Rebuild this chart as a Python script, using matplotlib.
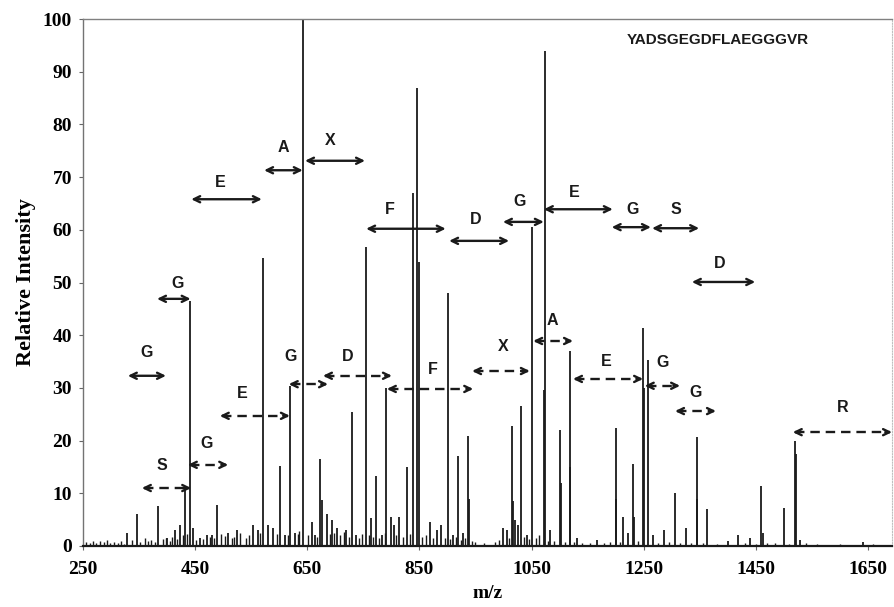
import matplotlib
matplotlib.use("Agg")
import matplotlib.pyplot as plt

# ---- spectrum peaks (m/z, relative intensity) -------------------------
peak_mz = [328, 346, 384, 400, 414, 423, 432, 441, 446, 459, 471, 480, 489,
           509, 525, 553, 562, 571, 580, 589, 601, 610, 619, 628, 643,
           658, 664, 673, 676, 685, 694, 703, 720, 729, 737, 755, 763, 773,
           783, 790, 799, 805, 814, 828, 838, 846, 849, 869, 881, 888, 901,
           910, 919, 928, 937, 939, 999, 1006, 1015, 1017, 1021, 1026, 1031,
           1042, 1050, 1072, 1074, 1083, 1101, 1102, 1118, 1119, 1131, 1167,
           1200, 1201, 1213, 1222, 1231, 1232, 1249, 1250, 1258, 1267, 1286,
           1306, 1325, 1345, 1346, 1363, 1400, 1418, 1440, 1459, 1463, 1500,
           1520, 1521, 1529, 1641]
peak_int = [2.5, 6.0, 7.5, 1.5, 3.0, 4.0, 11.0, 46.5, 3.5, 1.5, 2.0, 2.0, 7.7,
            2.5, 3.0, 4.0, 3.0, 54.7, 4.0, 3.5, 15.2, 2.0, 30.3, 2.5, 100.0,
            4.5, 2.0, 16.5, 8.7, 6.0, 5.0, 3.5, 3.0, 25.4, 2.0, 56.8, 5.4, 13.3,
            2.0, 30.0, 5.5, 4.0, 5.5, 15.0, 67.0, 87.0, 53.8, 4.5, 3.0, 4.0, 48.0,
            2.0, 17.0, 2.5, 20.8, 9.0, 3.5, 3.0, 22.7, 8.5, 5.0, 4.0, 26.5,
            2.0, 60.6, 29.6, 94.0, 3.0, 22.0, 12.0, 37.0, 15.0, 1.5, 1.2,
            22.3, 9.0, 5.5, 2.5, 15.5, 5.5, 41.3, 30.0, 35.2, 2.0, 3.0,
            10.0, 3.5, 20.6, 9.0, 7.0, 1.0, 2.0, 1.5, 11.4, 2.5, 7.2,
            19.9, 17.5, 1.2, 0.7]

# low-level chemical noise along the baseline
noise_mz = [255, 262, 268, 274, 281, 288, 293, 299, 306, 312, 318, 324, 337,
            352, 360, 366, 372, 378, 392, 398, 405, 409, 418, 428, 436, 452,
            464, 476, 484, 496, 503, 516, 520, 530, 540, 546, 566, 596, 616,
            633, 636, 652, 668, 690, 698, 708, 715, 724, 742, 748, 760, 768,
            778, 788, 808, 820, 833, 855, 862, 875, 895, 905, 915, 924, 932,
            944, 950, 966, 985, 992, 1010, 1036, 1046, 1058, 1064, 1080, 1090,
            1110, 1125, 1140, 1155, 1180, 1190, 1207, 1240, 1275, 1295, 1315,
            1335, 1355, 1380, 1430, 1450, 1470, 1485, 1510, 1540, 1560, 1600,
            1660]
noise_int = [0.8, 0.6, 1.0, 0.5, 0.9, 0.7, 1.1, 0.6, 0.8, 0.5, 0.9, 0.4, 1.2,
             0.8, 1.5, 0.9, 1.2, 0.7, 1.3, 1.6, 1.0, 1.8, 1.4, 2.0, 2.2, 1.2,
             1.4, 1.8, 1.6, 2.2, 1.9, 1.5, 1.8, 2.4, 1.6, 2.0, 2.5, 2.2, 2.0,
             2.3, 2.8, 2.0, 1.8, 2.2, 2.5, 2.0, 2.6, 1.8, 1.6, 2.2, 2.0, 1.8,
             1.5, 2.4, 2.0, 1.7, 2.2, 1.8, 2.0, 1.5, 1.6, 1.4, 1.8, 1.2, 1.5,
             1.0, 0.8, 0.6, 0.7, 1.2, 1.5, 1.8, 1.4, 1.6, 2.0, 1.0, 0.9,
             0.8, 0.7, 0.6, 0.5, 0.6, 0.8, 0.7, 0.9, 0.6, 0.7, 0.5, 0.6,
             0.5, 0.4, 0.5, 0.4, 0.6, 0.5, 0.4, 0.5, 0.4, 0.3, 0.3]

# ---- sequence-ladder arrows: start, end, y, label, label x, label y -----
solid_start = [330, 382, 443, 573, 646, 755, 903, 999, 1072, 1193, 1265, 1336]
solid_end = [398, 442, 569, 642, 753, 897, 1010, 1072, 1195, 1263, 1349, 1449]
solid_y = [32.3, 46.9, 65.8, 71.3, 73.1, 60.2, 57.9, 61.5, 63.9, 60.5, 60.3, 50.1]
solid_lab = ["G", "G", "E", "A", "X", "F", "D", "G", "E", "G", "S", "D"]
solid_lab_x = [364, 418, 494, 607, 690, 798, 951, 1028, 1126, 1231, 1308, 1386]
solid_lab_y = [36.8, 49.9, 68.9, 75.7, 77.0, 63.8, 61.9, 65.3, 67.0, 63.9, 63.9, 53.7]

dash_start = [355, 437, 494, 617, 678, 792, 944, 1053, 1124, 1252, 1306, 1516]
dash_end = [443, 509, 619, 687, 801, 946, 1047, 1124, 1249, 1315, 1379, 1693]
dash_y = [11.0, 15.4, 24.7, 30.7, 32.3, 29.8, 33.2, 38.9, 31.7, 30.4, 25.6, 21.6]
dash_lab = ["S", "G", "E", "G", "D", "F", "X", "A", "E", "G", "G", "R"]
dash_lab_x = [391, 471, 534, 621, 723, 874, 999, 1088, 1183, 1283, 1343, 1605]
dash_lab_y = [15.2, 19.5, 29.0, 35.9, 35.9, 33.4, 37.8, 42.7, 35.1, 34.9, 29.2, 26.2]

SEQUENCE = "YADSGEGDFLAEGGGVR"

SERIF = ["Liberation Serif", "DejaVu Serif"]
SANS = ["Liberation Sans", "DejaVu Sans"]
INK = "#1a1a1a"


def arrow(ax, x0, x1, y, dashed):
    head = "<->,head_length=0.45,head_width=0.22"
    if not dashed:
        ax.annotate("", xy=(x1, y), xytext=(x0, y),
                    arrowprops=dict(arrowstyle=head, lw=1.7, color=INK,
                                    shrinkA=0, shrinkB=0))
        return
    ax.plot([x0 + 4, x1 - 4], [y, y], color=INK, lw=1.7, ls=(0, (4, 2.5)))
    for a, b in [(x0, x0 + 12), (x1, x1 - 12)]:
        ax.annotate("", xy=(a, y), xytext=(b, y),
                    arrowprops=dict(arrowstyle="->,head_length=0.45,head_width=0.22",
                                    lw=1.7, color=INK, shrinkA=0, shrinkB=0))


def main():
    fig = plt.figure(figsize=(8.94, 6.07), dpi=100)
    ax = fig.add_axes([83 / 894, 61 / 607, 809 / 894, 527 / 607])

    ax.vlines(noise_mz, 0, noise_int, color=INK, lw=1.0)
    ax.vlines(peak_mz, 0, peak_int, color=INK, lw=1.3)

    for x0, x1, y in zip(solid_start, solid_end, solid_y):
        arrow(ax, x0, x1, y, dashed=False)
    for x0, x1, y in zip(dash_start, dash_end, dash_y):
        arrow(ax, x0, x1, y, dashed=True)

    for lab, lx, ly in zip(solid_lab + dash_lab, solid_lab_x + dash_lab_x,
                           solid_lab_y + dash_lab_y):
        ax.text(lx, ly, lab, ha="center", va="center", fontsize=11.5,
                fontweight="bold", family=SANS, color=INK)

    ax.text(1382, 96, SEQUENCE, ha="center", va="center", fontsize=11,
            fontweight="bold", family=SANS, color=INK)

    ax.set_xlim(250, 1693)
    ax.set_ylim(0, 100)
    ax.set_xticks([250, 450, 650, 850, 1050, 1250, 1450, 1650])
    ax.set_yticks(range(0, 101, 10))
    ax.tick_params(direction="out", length=3, width=0.8, color="0.4",
                   labelsize=14)
    ax.tick_params(axis="x", pad=8)
    ax.tick_params(axis="y", pad=5)
    for lab in ax.get_xticklabels() + ax.get_yticklabels():
        lab.set_family(SERIF)
        lab.set_fontweight("bold")

    ax.set_xlabel("m/z", family=SERIF, fontweight="bold", fontsize=14,
                  labelpad=5)
    ax.set_ylabel("Relative Intensity", family=SERIF, fontweight="bold",
                  fontsize=16, labelpad=5)

    ax.spines["bottom"].set_linewidth(1.6)
    ax.spines["bottom"].set_color(INK)
    ax.spines["left"].set_linewidth(1.0)
    ax.spines["left"].set_color("0.45")
    ax.spines["top"].set_linewidth(1.0)
    ax.spines["top"].set_color("0.5")
    ax.spines["top"].set_linestyle((0, (3, 1)))
    ax.spines["right"].set_linewidth(0.8)
    ax.spines["right"].set_color("0.75")
    ax.spines["right"].set_linestyle((0, (1, 1.5)))

    fig.savefig("out.png", dpi=100)
    plt.close(fig)


if __name__ == "__main__":
    main()
